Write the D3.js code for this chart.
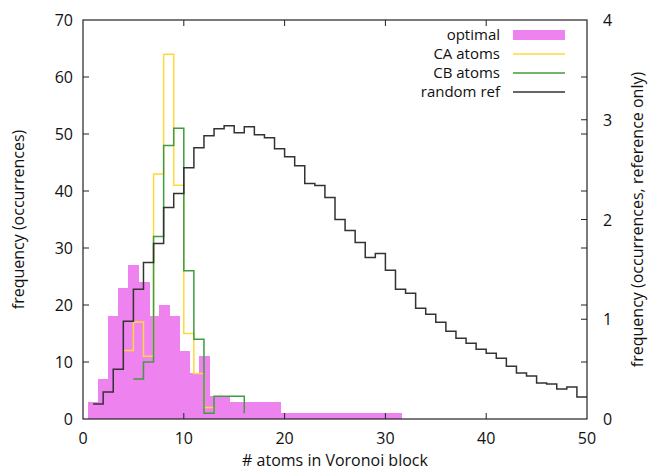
<!DOCTYPE html>
<html>
<head>
<meta charset="utf-8">
<script src="https://cdn.jsdelivr.net/npm/d3@7"></script>
<style>
  body { margin: 0; background: #fff; }
  svg { font-family: "Open Sans", sans-serif; }
  .tick-label { font-size: 16px; fill: #111; }
  .title { font-size: 16px; fill: #111; }
  .legend-label { font-size: 15px; fill: #111; }
</style>
</head>
<body>
<div id="chart"></div>
<script>
// histogram of atoms per Voronoi block
const optimalBins = [1,2,3,4,5,6,7,8,9,10,11,12,13,14,15,16,17,18,19,20,21,22,23,24,25,26,27,28,29,30,31];
const optimalCounts = [3,7,18,23,27,24,18,20,18,12,8,11,4,4,3,3,3,3,3,1,1,1,1,1,1,1,1,1,1,1,1];

const caX = [4,5,6,7,8,9,10,11,12,13];
const caCounts = [12,17,11,43,64,41,15,8,2,1];

const cbX = [5,6,7,8,9,10,11,12,13,14,15,16];
const cbCounts = [7,10,32,48,51,26,14,1,4,4,4,1];

// random reference uses the right axis
const randX = [1,2,3,4,5,6,7,8,9,10,11,12,13,14,15,16,17,18,19,20,21,22,23,24,25,
  26,27,28,29,30,31,32,33,34,35,36,37,38,39,40,41,42,43,44,45,46,47,48,49,50];
const randFreq = [0.15,0.27,0.50,0.98,1.30,1.57,1.76,2.12,2.26,2.52,2.72,2.84,2.91,2.94,2.87,
  2.93,2.85,2.82,2.71,2.63,2.54,2.36,2.34,2.22,2.00,1.89,1.77,1.62,1.66,1.49,1.30,1.26,1.11,
  1.05,0.97,0.88,0.81,0.76,0.70,0.66,0.61,0.53,0.46,0.43,0.36,0.35,0.30,0.32,0.22,0.22];

const xTicks = [0,10,20,30,40,50];
const yTicks = [0,10,20,30,40,50,60,70];
const y2Ticks = [0,1,2,3,4];

const width = 651, height = 475;
const margin = { top: 20, right: 64, bottom: 56, left: 83 };

const svg = d3.select('#chart').append('svg')
  .attr('width', width)
  .attr('height', height);

const x = d3.scaleLinear().domain([0, 50]).range([margin.left, width - margin.right]);
const y = d3.scaleLinear().domain([0, 70]).range([height - margin.bottom, margin.top]);
const y2 = d3.scaleLinear().domain([0, 4]).range([height - margin.bottom, margin.top]);

svg.append('clipPath').attr('id', 'plot-clip')
  .append('rect')
  .attr('x', x(0)).attr('y', y(70))
  .attr('width', x(50) - x(0)).attr('height', y(0) - y(70));

const plot = svg.append('g').attr('clip-path', 'url(#plot-clip)');

// optimal bars, width 1 centred on each bin
plot.append('g')
  .attr('shape-rendering', 'crispEdges')
  .selectAll('rect')
  .data(optimalBins)
  .enter()
  .append('rect')
  .attr('x', (d) => x(d - 0.5))
  .attr('y', (d, i) => y(optimalCounts[i]))
  .attr('width', (d) => x(d + 0.5) - x(d - 0.5) + 1)
  .attr('height', (d, i) => y(0) - y(optimalCounts[i]))
  .attr('fill', '#ee82ee');

function stepLine(xs, vals, scale, color) {
  const line = d3.line()
    .x((d, i) => x(xs[i]))
    .y((d) => scale(d))
    .curve(d3.curveStepAfter);
  plot.append('path')
    .datum(vals)
    .attr('d', line)
    .attr('fill', 'none')
    .attr('stroke', color)
    .attr('stroke-width', 1.5);
}

stepLine(caX, caCounts, y, '#ffd83a');
stepLine(cbX, cbCounts, y, '#3f9c3f');
stepLine(randX, randFreq, y2, '#333333');

// frame
const axisColor = '#222';
svg.append('rect')
  .attr('x', x(0)).attr('y', y(70))
  .attr('width', x(50) - x(0)).attr('height', y(0) - y(70))
  .attr('fill', 'none').attr('stroke', axisColor).attr('stroke-width', 1.2);

const tickLen = 6;
const ticks = svg.append('g').attr('stroke', axisColor).attr('stroke-width', 1);

// x ticks, bottom and mirrored top
xTicks.slice(1, -1).forEach((t) => {
  ticks.append('line').attr('x1', x(t)).attr('x2', x(t)).attr('y1', y(0)).attr('y2', y(0) - tickLen);
  ticks.append('line').attr('x1', x(t)).attr('x2', x(t)).attr('y1', y(70)).attr('y2', y(70) + tickLen);
});
// left ticks, mirrored on the right
yTicks.slice(1, -1).forEach((t) => {
  ticks.append('line').attr('x1', x(0)).attr('x2', x(0) + tickLen).attr('y1', y(t)).attr('y2', y(t));
  ticks.append('line').attr('x1', x(50)).attr('x2', x(50) - tickLen).attr('y1', y(t)).attr('y2', y(t));
});
// right axis ticks
y2Ticks.slice(1, -1).forEach((t) => {
  ticks.append('line').attr('x1', x(50)).attr('x2', x(50) - tickLen).attr('y1', y2(t)).attr('y2', y2(t));
});

svg.selectAll('text.xt')
  .data(xTicks)
  .enter()
  .append('text')
  .attr('class', 'tick-label')
  .attr('x', (d) => x(d))
  .attr('y', y(0) + 25)
  .attr('text-anchor', 'middle')
  .text((d) => d);

svg.selectAll('text.yt')
  .data(yTicks)
  .enter()
  .append('text')
  .attr('class', 'tick-label')
  .attr('x', x(0) - 10)
  .attr('y', (d) => y(d) + 6)
  .attr('text-anchor', 'end')
  .text((d) => d);

svg.selectAll('text.y2t')
  .data(y2Ticks)
  .enter()
  .append('text')
  .attr('class', 'tick-label')
  .attr('x', x(50) + 16)
  .attr('y', (d) => y2(d) + 6)
  .attr('text-anchor', 'start')
  .text((d) => d);

svg.append('text')
  .attr('class', 'title')
  .attr('x', (x(0) + x(50)) / 2)
  .attr('y', height - 9)
  .attr('text-anchor', 'middle')
  .text('# atoms in Voronoi block');

svg.append('text')
  .attr('class', 'title')
  .attr('transform', `translate(24,${(y(0) + y(70)) / 2}) rotate(-90)`)
  .attr('text-anchor', 'middle')
  .text('frequency (occurrences)');

svg.append('text')
  .attr('class', 'title')
  .attr('transform', `translate(643,${(y(0) + y(70)) / 2}) rotate(-90)`)
  .attr('text-anchor', 'middle')
  .text('frequency (occurrences, reference only)');

// legend
const legendItems = ['optimal', 'CA atoms', 'CB atoms', 'random ref'];
const legendColors = ['#ee82ee', '#ffd83a', '#3f9c3f', '#333333'];
const legend = svg.append('g');
legendItems.forEach((name, i) => {
  const cy = 35 + i * 19;
  legend.append('text')
    .attr('class', 'legend-label')
    .attr('x', 500)
    .attr('y', cy + 5)
    .attr('text-anchor', 'end')
    .text(name);
  if (i === 0) {
    legend.append('rect')
      .attr('x', 513).attr('y', cy - 5)
      .attr('width', 52).attr('height', 10)
      .attr('fill', legendColors[i]);
  } else {
    legend.append('line')
      .attr('x1', 513).attr('x2', 565)
      .attr('y1', cy).attr('y2', cy)
      .attr('stroke', legendColors[i]).attr('stroke-width', 1.5);
  }
});
</script>
</body>
</html>
